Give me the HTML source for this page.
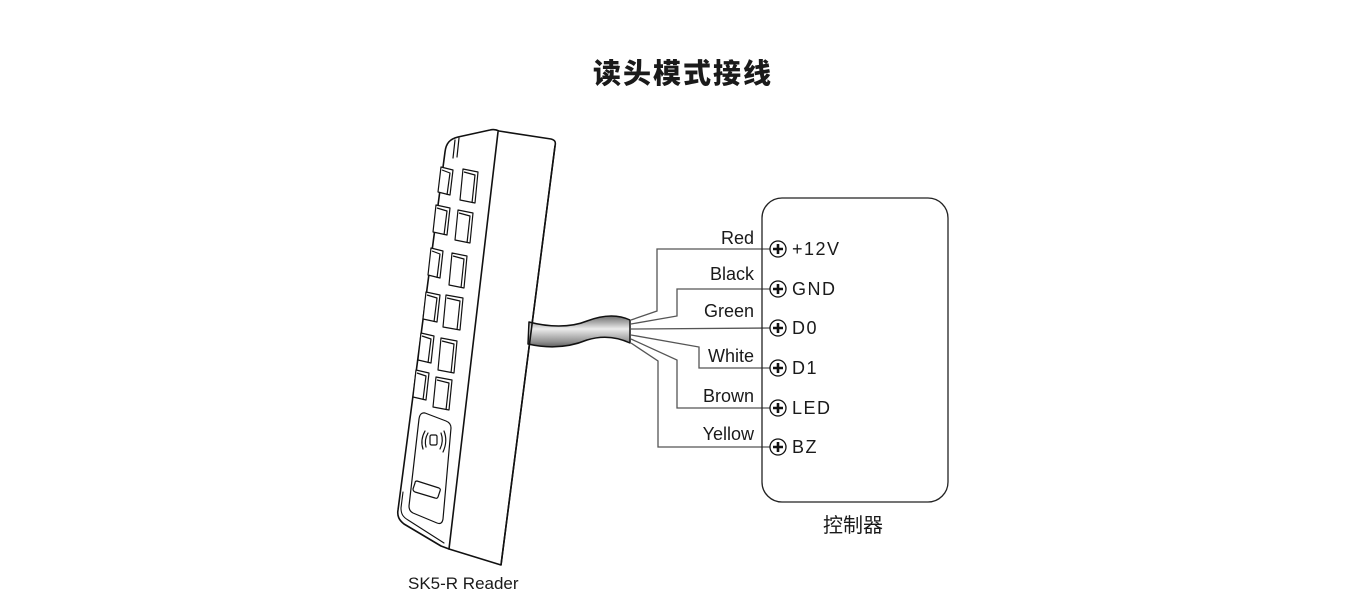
<!DOCTYPE html>
<html>
<head>
<meta charset="utf-8">
<style>
  html,body{margin:0;padding:0;background:#fff;}
  body{width:1360px;height:602px;overflow:hidden;}
  svg{display:block;}
  text{font-family:"Liberation Sans","Noto Sans CJK SC",sans-serif;fill:#1a1a1a;}
</style>
</head>
<body>
<svg width="1360" height="602" viewBox="0 0 1360 602" xmlns="http://www.w3.org/2000/svg">
  <defs>
    <linearGradient id="cab" x1="0" y1="0" x2="0" y2="1">
      <stop offset="0" stop-color="#6e6e6e"/>
      <stop offset="0.2" stop-color="#a8a8a8"/>
      <stop offset="0.42" stop-color="#ececec"/>
      <stop offset="0.6" stop-color="#c4c4c4"/>
      <stop offset="0.85" stop-color="#8e8e8e"/>
      <stop offset="1" stop-color="#5e5e5e"/>
    </linearGradient>
  </defs>

  <!-- Title -->
  <text x="683" y="83" text-anchor="middle" font-size="28" font-weight="bold" letter-spacing="2" style="font-family:'Noto Sans CJK SC','WenQuanYi Zen Hei',sans-serif;font-weight:900;">读头模式接线</text>

  <!-- Reader body -->
  <g fill="#fff" stroke="#111" stroke-width="1.6" stroke-linejoin="round" stroke-linecap="round">
    <path d="M445,152 C446,143 450,139 458,137 L490,130 C494,129 497,130 499,131 L551,139 C555,140 556,142 555,146 L501,565 L449,549 L441,546 L404,524 C399,520 397,516 398,510 Z"/>
    <path d="M498,132 L449,549" fill="none"/>
    <!-- slot -->
    <path d="M455,140 L453,158 M459,138 L457,157" fill="none" stroke-width="1.2"/>
    <!-- inner bevel near bottom-left -->
    <path d="M403,492 L401,508 C401,514 403,517 408,520 L444,543" fill="none" stroke-width="1.1"/>
  </g>

  <!-- Cable -->
  <path d="M529,322 C548,327 570,328 587,321 C600,316 615,313 630,320 L630,343 C615,336 600,336 587,340 C570,347 550,349 528,344 Z" fill="url(#cab)" stroke="#111" stroke-width="1.5" stroke-linejoin="round"/>
  <!-- reader right edge redraw over cable -->
  <path d="M555,146 L501,565" stroke="#111" stroke-width="1.6" fill="none"/>

  <!-- Keys -->
  <g fill="#fff" stroke="#111" stroke-width="1.2" stroke-linejoin="round">
    <path d="M441,167 L453,170 L450,195 L438,192 Z"/><path d="M442,170 L450,173 L447,195" fill="none"/>
    <path d="M463,169 L478,172 L475,203 L460,200 Z"/><path d="M464,172 L475,175 L472,203" fill="none"/>
    <path d="M436,205 L450,208 L447,235 L433,232 Z"/><path d="M437,208 L447,211 L444,235" fill="none"/>
    <path d="M458,210 L473,213 L470,243 L455,240 Z"/><path d="M459,213 L470,216 L467,243" fill="none"/>
    <path d="M431,248 L443,251 L440,278 L428,275 Z"/><path d="M432,251 L440,254 L437,278" fill="none"/>
    <path d="M452,253 L467,256 L464,288 L449,285 Z"/><path d="M453,256 L464,259 L461,288" fill="none"/>
    <path d="M426,292 L440,295 L437,322 L423,319 Z"/><path d="M427,295 L437,298 L434,322" fill="none"/>
    <path d="M446,295 L463,298 L460,330 L443,327 Z"/><path d="M447,298 L460,301 L457,330" fill="none"/>
    <path d="M421,333 L434,336 L431,363 L418,360 Z"/><path d="M422,336 L431,339 L428,363" fill="none"/>
    <path d="M441,338 L457,341 L454,373 L438,370 Z"/><path d="M442,341 L454,344 L451,373" fill="none"/>
    <path d="M416,370 L429,373 L426,400 L413,397 Z"/><path d="M417,373 L426,376 L423,400" fill="none"/>
    <path d="M436,377 L452,380 L449,410 L433,407 Z"/><path d="M437,380 L449,383 L446,410" fill="none"/>
  </g>

  <!-- Card area -->
  <g fill="none" stroke="#111" stroke-width="1.2" stroke-linejoin="round" stroke-linecap="round">
    <path d="M425,413 L446,421 Q451,423 451,428 L443,519 Q442,525 437,523 L413,513 Q409,511 409,506 L419,419 Q420,412 425,413 Z"/>
    <!-- RFID symbol -->
    <path d="M425,431 Q420,440 423,449"/>
    <path d="M428,433 Q424,440 426,447"/>
    <rect x="430" y="435" width="7" height="10" rx="1.5"/>
    <path d="M441,433 Q444,441 440,449"/>
    <path d="M444,431 Q448,441 443,452"/>
    <!-- bar -->
    <path d="M417,481 L439,488 Q441,489 440,491 L438,497 Q437,499 435,498 L415,492 Q413,491 413,489 L415,483 Q415,481 417,481 Z"/>
  </g>

  <!-- Wires -->
  <g fill="none" stroke="#555" stroke-width="1.3" stroke-linejoin="miter">
    <path d="M631,320 L657,311 L657,249 L770,249"/>
    <path d="M631,324 L677,316 L677,289 L770,289"/>
    <path d="M631,329 L770,328"/>
    <path d="M631,335 L699,347 L699,368 L770,368"/>
    <path d="M631,339 L677,360 L677,408 L770,408"/>
    <path d="M631,343 L658,361 L658,447 L770,447"/>
  </g>

  <!-- Wire labels -->
  <g font-size="18" text-anchor="end">
    <text x="754" y="244">Red</text>
    <text x="754" y="280">Black</text>
    <text x="754" y="317">Green</text>
    <text x="754" y="362">White</text>
    <text x="754" y="402">Brown</text>
    <text x="754" y="440">Yellow</text>
  </g>

  <!-- Controller box -->
  <rect x="762" y="198" width="186" height="304" rx="20" ry="20" fill="none" stroke="#222" stroke-width="1.3"/>

  <!-- Terminals -->
  <g>
    <g stroke="#111" stroke-width="1.3" fill="#fff">
      <circle cx="778" cy="249" r="8"/>
      <circle cx="778" cy="289" r="8"/>
      <circle cx="778" cy="328" r="8"/>
      <circle cx="778" cy="368" r="8"/>
      <circle cx="778" cy="408" r="8"/>
      <circle cx="778" cy="447" r="8"/>
    </g>
    <g stroke="#111" stroke-width="2.6" stroke-linecap="butt">
      <path d="M773,249 H783 M778,244 V254"/>
      <path d="M773,289 H783 M778,284 V294"/>
      <path d="M773,328 H783 M778,323 V333"/>
      <path d="M773,368 H783 M778,363 V373"/>
      <path d="M773,408 H783 M778,403 V413"/>
      <path d="M773,447 H783 M778,442 V452"/>
    </g>
  </g>
  <g font-size="18" letter-spacing="1.5">
    <text x="792" y="255">+12V</text>
    <text x="792" y="295">GND</text>
    <text x="792" y="334">D0</text>
    <text x="792" y="374">D1</text>
    <text x="792" y="414">LED</text>
    <text x="792" y="453">BZ</text>
  </g>

  <!-- Captions -->
  <text x="853" y="532" text-anchor="middle" font-size="20">控制器</text>
  <text x="408" y="589" font-size="17">SK5-R Reader</text>
</svg>
</body>
</html>
